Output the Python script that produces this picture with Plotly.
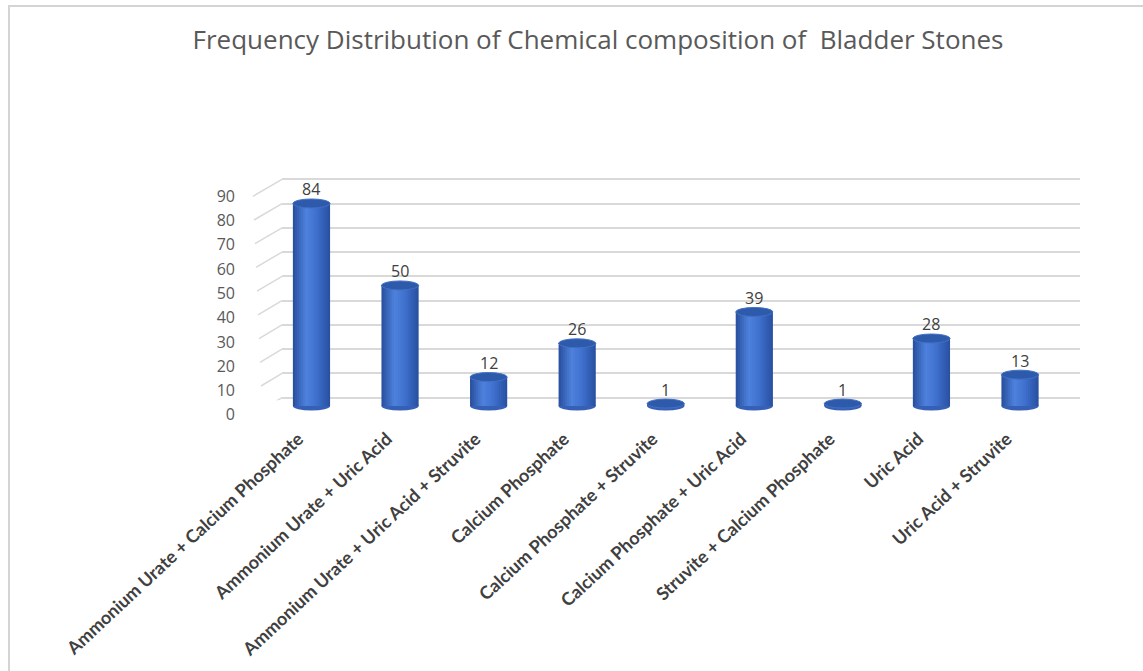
import plotly.graph_objects as go

# ---------------- data ----------------
categories = [
    "Ammonium Urate + Calcium Phosphate",
    "Ammonium Urate + Uric Acid",
    "Ammonium Urate + Uric Acid + Struvite",
    "Calcium Phosphate",
    "Calcium Phosphate + Struvite",
    "Calcium Phosphate + Uric Acid",
    "Struvite + Calcium Phosphate",
    "Uric Acid",
    "Uric Acid + Struvite",
]
counts = [84, 50, 12, 26, 1, 39, 1, 28, 13]
y_ticks = [0, 10, 20, 30, 40, 50, 60, 70, 80, 90]
title_text = "Frequency Distribution of Chemical composition of  Bladder Stones"

# ---------------- layout helpers ----------------
W, H = 1143, 671
def fx(px):
    return px / W
def fy(py):
    return 1 - py / H

# bar subplot pixel geometry
BAR_PX_PER_UNIT = 2.411
BAR_ZERO_PX = 406.0
Y2_RANGE = [-5, 92]
BAR_X_LEFT, BAR_X_RIGHT = 267.2, 1064.3

# back-wall grid geometry
GRID_PX_PER_UNIT = 2.427
GRID_ZERO_PX = 397.7
Y1_RANGE = [-1, 91]
GRID_X_LEFT, GRID_X_RIGHT = 282, 1080

BAR_W = 0.42
N_STRIPES = 18
stops = [(0.0, (40, 78, 155)), (0.35, (78, 130, 222)), (0.65, (62, 111, 204)), (1.0, (40, 80, 160))]

def shade(t):
    for (t0, c0), (t1, c1) in zip(stops[:-1], stops[1:]):
        if t0 <= t <= t1:
            f = (t - t0) / (t1 - t0)
            c = [round(a + (b - a) * f) for a, b in zip(c0, c1)]
            return f"rgb({c[0]},{c[1]},{c[2]})"
    c = stops[-1][1]
    return f"rgb({c[0]},{c[1]},{c[2]})"

fig = go.Figure()

# placeholder trace for the back-wall grid subplot
fig.add_trace(go.Scatter(x=[None], y=[None], xaxis="x", yaxis="y",
                         showlegend=False, hoverinfo="skip"))

# cylinder bodies as shaded stripes
sw = BAR_W / N_STRIPES
for k in range(N_STRIPES):
    t = (k + 0.5) / N_STRIPES
    width = sw if k == N_STRIPES - 1 else sw * 1.6
    fig.add_trace(go.Bar(
        x=categories, y=counts, xaxis="x2", yaxis="y2",
        width=width, offset=-BAR_W / 2 + k * sw,
        marker=dict(color=shade(t), line=dict(width=0)),
        showlegend=False, hoverinfo="skip",
    ))

shapes = []
# cylinder bottoms (below bodies) and tops
for i, v in enumerate(counts):
    shapes.append(dict(type="circle", xref="x2", yref="y2", layer="below",
                       x0=i - BAR_W / 2, x1=i + BAR_W / 2,
                       ysizemode="pixel", yanchor=0, y0=-4.5, y1=4.5,
                       fillcolor="rgb(54,96,182)", line=dict(width=0)))
    shapes.append(dict(type="circle", xref="x2", yref="y2",
                       x0=i - BAR_W / 2, x1=i + BAR_W / 2,
                       ysizemode="pixel", yanchor=v, y0=-4.5, y1=4.5,
                       fillcolor="rgb(46,90,172)",
                       line=dict(width=1, color="rgb(66,112,196)")))

# diagonal side-wall lines joining front labels to back gridlines
for v in y_ticks:
    f = v / 90
    dx = 20 + 9 * f
    dy = 12 + 5 * f
    shapes.append(dict(type="line", xref="paper", yref="y",
                       x0=fx(GRID_X_LEFT - dx), x1=fx(GRID_X_LEFT),
                       ysizemode="pixel", yanchor=v, y0=-dy, y1=0,
                       line=dict(color="#d9d9d9", width=1.5)))

# outer frame
shapes.append(dict(type="rect", xref="paper", yref="paper",
                   x0=fx(9), x1=fx(1170), y0=fy(700), y1=fy(6),
                   line=dict(color="#d4d4d4", width=2), fillcolor="rgba(0,0,0,0)"))

annotations = []
for cat, v in zip(categories, counts):
    annotations.append(dict(x=cat, y=v, xref="x2", yref="y2", text=str(v),
                            showarrow=False, yanchor="bottom", yshift=1,
                            font=dict(family="Open Sans", size=16, color="#404040")))

y1_bottom = GRID_ZERO_PX - Y1_RANGE[0] * GRID_PX_PER_UNIT
y1_top = GRID_ZERO_PX - Y1_RANGE[1] * GRID_PX_PER_UNIT
y2_bottom = BAR_ZERO_PX - Y2_RANGE[0] * BAR_PX_PER_UNIT
y2_top = BAR_ZERO_PX - Y2_RANGE[1] * BAR_PX_PER_UNIT

fig.update_layout(
    width=W, height=H, autosize=False,
    margin=dict(l=0, r=0, t=0, b=0, pad=0, autoexpand=False),
    paper_bgcolor="white",
    plot_bgcolor="rgba(0,0,0,0)",
    barmode="overlay",
    showlegend=False,
    title=dict(text=title_text, x=fx(598), xanchor="center", y=fy(40), yanchor="middle",
               xref="paper", yref="paper", automargin=False,
               font=dict(family="Open Sans", size=26, color="#595959")),
    xaxis=dict(domain=[fx(GRID_X_LEFT), fx(GRID_X_RIGHT)], range=[0, 1], visible=False,
               automargin=False),
    yaxis=dict(domain=[fy(y1_bottom), fy(y1_top)], range=Y1_RANGE, anchor="x",
               tickvals=y_ticks, showgrid=True, gridcolor="#d9d9d9", gridwidth=1.5,
               zeroline=False, showline=False, ticks="", automargin=False,
               tickfont=dict(family="Open Sans", size=16, color="#595959"),
               ticklabelshift=17, ticklabelstandoff=46),
    xaxis2=dict(domain=[fx(BAR_X_LEFT), fx(BAR_X_RIGHT)], anchor="y2", type="category",
                range=[-0.5, len(categories) - 0.5], showgrid=False, zeroline=False,
                showline=False, ticks="", tickangle=-43, automargin=False,
                tickfont=dict(family="Lato", size=18, color="#404040", weight="bold"),
                ticklabelstandoff=6, ticklabelshift=-13),
    yaxis2=dict(domain=[fy(y2_bottom), fy(y2_top)], range=Y2_RANGE, anchor="x2",
                visible=False, automargin=False),
    shapes=shapes,
    annotations=annotations,
)

fig.write_html("out.html")
